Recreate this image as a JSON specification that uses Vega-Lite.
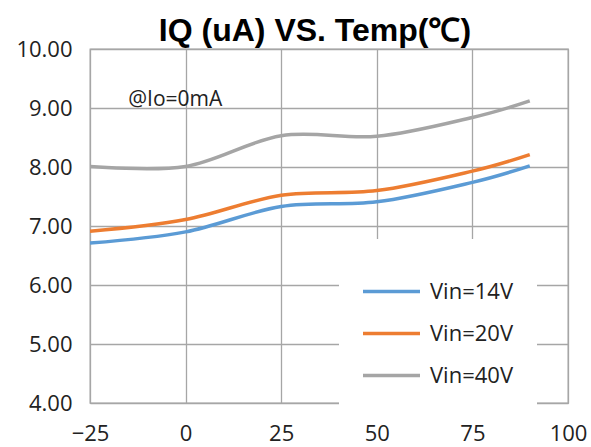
{
  "$schema": "https://vega.github.io/schema/vega-lite/v6.json",
  "autosize": {"type": "none"},
  "width": 478,
  "height": 354,
  "padding": {"left": 90, "top": 49, "right": 23, "bottom": 44},
  "background": "white",
  "title": {
    "text": "IQ (uA) VS. Temp(℃)",
    "font": "Liberation Sans",
    "fontSize": 32,
    "fontWeight": "bold",
    "color": "#000000",
    "anchor": "middle",
    "offset": 0,
    "dy": 10,
    "dx": -14
  },
  "data": {
    "values": [
      {"temp": -25, "iq": 6.71, "series": "Vin=14V"},
      {"temp": 0, "iq": 6.9, "series": "Vin=14V"},
      {"temp": 25, "iq": 7.33, "series": "Vin=14V"},
      {"temp": 50, "iq": 7.41, "series": "Vin=14V"},
      {"temp": 75, "iq": 7.74, "series": "Vin=14V"},
      {"temp": 90, "iq": 8.02, "series": "Vin=14V"},
      {"temp": -25, "iq": 6.91, "series": "Vin=20V"},
      {"temp": 0, "iq": 7.11, "series": "Vin=20V"},
      {"temp": 25, "iq": 7.52, "series": "Vin=20V"},
      {"temp": 50, "iq": 7.6, "series": "Vin=20V"},
      {"temp": 75, "iq": 7.93, "series": "Vin=20V"},
      {"temp": 90, "iq": 8.21, "series": "Vin=20V"},
      {"temp": -25, "iq": 8.01, "series": "Vin=40V"},
      {"temp": 0, "iq": 8.01, "series": "Vin=40V"},
      {"temp": 25, "iq": 8.53, "series": "Vin=40V"},
      {"temp": 50, "iq": 8.52, "series": "Vin=40V"},
      {"temp": 75, "iq": 8.84, "series": "Vin=40V"},
      {"temp": 90, "iq": 9.12, "series": "Vin=40V"}
    ]
  },
  "layer": [
    {
      "mark": {"type": "line", "interpolate": "cardinal", "strokeWidth": 3.5, "clip": true},
      "encoding": {
        "x": {
          "field": "temp", "type": "quantitative",
          "scale": {"domain": [-25, 100], "nice": false, "zero": false},
          "axis": {
            "title": null, "values": [-25, 0, 25, 50, 75, 100],
            "ticks": false, "domainColor": "#A6A6A6", "gridColor": "#A6A6A6", "gridWidth": 1.3,
            "labelFont": "Open Sans", "labelFontSize": 22, "labelColor": "#222222",
            "labelPadding": 20, "labelFlush": false, "labelOverlap": false
          }
        },
        "y": {
          "field": "iq", "type": "quantitative",
          "scale": {"domain": [4, 10], "nice": false, "zero": false},
          "axis": {
            "title": null, "values": [4, 5, 6, 7, 8, 9, 10], "format": ".2f",
            "ticks": false, "domainColor": "#A6A6A6", "gridColor": "#A6A6A6", "gridWidth": 1.3,
            "labelFont": "Open Sans", "labelFontSize": 22, "labelColor": "#222222",
            "labelPadding": 18, "labelOverlap": false
          }
        },
        "color": {
          "field": "series", "type": "nominal",
          "scale": {"domain": ["Vin=14V", "Vin=20V", "Vin=40V"], "range": ["#5B9BD5", "#ED7D31", "#A5A5A5"]},
          "legend": {
            "title": null, "orient": "none", "legendX": 249, "legendY": 190,
            "symbolType": "stroke", "symbolSize": 3249, "symbolStrokeWidth": 3.5,
            "labelFont": "Open Sans", "labelFontSize": 22, "labelColor": "#222222",
            "rowPadding": -18, "labelOffset": 8,
            "fillColor": "white", "padding": 22, "strokeColor": "white"
          }
        }
      }
    },
    {
      "data": {"values": [{}]},
      "mark": {"type": "text", "font": "Open Sans", "fontSize": 21, "fontWeight": "normal", "fill": "#222222", "align": "left", "baseline": "alphabetic"},
      "encoding": {
        "x": {"datum": -15, "type": "quantitative"},
        "y": {"datum": 9.03, "type": "quantitative"},
        "text": {"value": "@Io=0mA"}
      }
    }
  ],
  "config": {"view": {"stroke": "#A6A6A6", "strokeWidth": 1.3}}
}
